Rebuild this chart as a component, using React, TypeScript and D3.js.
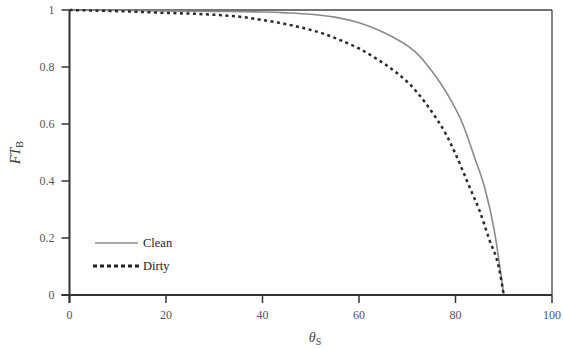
import React from "react";
import * as d3 from "d3";

const cleanTheta = [0, 10, 20, 30, 40, 45, 50, 55, 60, 64, 67, 70, 72, 74, 76, 79, 81.5, 84, 86, 88, 90];
const cleanFT = [1, 0.999, 0.997, 0.995, 0.993, 0.99, 0.985, 0.975, 0.955, 0.93, 0.905, 0.875, 0.848, 0.81, 0.765, 0.685, 0.6, 0.48, 0.38, 0.23, 0];
const dirtyTheta = [0, 10, 20, 28, 35, 40, 45, 50, 53, 56, 60, 64, 68, 70, 72, 75, 78, 80, 83, 85, 87, 89, 90];
const dirtyFT = [1, 0.996, 0.99, 0.985, 0.977, 0.965, 0.95, 0.93, 0.915, 0.895, 0.865, 0.825, 0.777, 0.748, 0.712, 0.645, 0.565, 0.495, 0.375, 0.295, 0.195, 0.095, 0];
const xTicks = [0, 20, 40, 60, 80, 100];
const yTicks = [0, 0.2, 0.4, 0.6, 0.8, 1];
const yTickLabels = ["0", "0.2", "0.4", "0.6", "0.8", "1"];
const seriesNames = ["Clean", "Dirty"];

const W = 563;
const H = 349;
const left = 69.5;
const right = 552;
const top = 10;
const bottom = 295;

export default function App() {
  const x = d3.scaleLinear().domain([0, 100]).range([left, right]);
  const y = d3.scaleLinear().domain([0, 1]).range([bottom, top]);
  const line = d3
    .line<[number, number]>()
    .x((d) => x(d[0]))
    .y((d) => y(d[1]))
    .curve(d3.curveMonotoneX);
  const clean = cleanTheta.map((t, i) => [t, cleanFT[i]] as [number, number]);
  const dirty = dirtyTheta.map((t, i) => [t, dirtyFT[i]] as [number, number]);
  const font = "'Liberation Serif', 'DejaVu Serif', serif";
  const axisColor = "#333";
  const labelColor = "#555";

  return (
    <svg
      width={W}
      height={H}
      style={{ position: "fixed", left: 0, top: 0, background: "#fff" }}
      fontFamily={font}
    >
      <rect x={0} y={0} width={W} height={H} fill="#fff" />
      {/* frame top & right */}
      <line x1={left} x2={right} y1={top} y2={top} stroke="#444" strokeWidth={1.3} />
      <line x1={right} x2={right} y1={top} y2={bottom} stroke="#444" strokeWidth={1.3} />
      {/* data */}
      <path d={line(clean) || ""} fill="none" stroke="#8a8a8a" strokeWidth={1.6} />
      <path d={line(dirty) || ""} fill="none" stroke="#2a2a2a" strokeWidth={2.5} strokeDasharray="3,3.5" />
      {/* axes */}
      <line x1={left} x2={left} y1={top} y2={bottom + 8} stroke={axisColor} strokeWidth={2} />
      <line x1={left - 8} x2={right} y1={bottom} y2={bottom} stroke={axisColor} strokeWidth={2} />
      {yTicks.map((t, i) => (
        <g key={"y" + t}>
          <line x1={left - 8} x2={left} y1={y(t)} y2={y(t)} stroke={axisColor} strokeWidth={1.5} />
          <text x={left - 15} y={y(t)} dy="0.35em" textAnchor="end" fontSize={12} fill={labelColor}>
            {yTickLabels[i]}
          </text>
        </g>
      ))}
      {xTicks.map((t) => (
        <g key={"x" + t}>
          <line x1={x(t)} x2={x(t)} y1={bottom} y2={bottom + 8} stroke={axisColor} strokeWidth={1.5} />
          <text x={x(t)} y={bottom + 24} textAnchor="middle" fontSize={12} fill={labelColor}>
            {t}
          </text>
        </g>
      ))}
      {/* axis titles */}
      <text x={315} y={342} textAnchor="middle" fontSize={14} fill="#444">
        <tspan fontStyle="italic">θ</tspan>
        <tspan fontSize={10} dy={3}>S</tspan>
      </text>
      <text
        transform={`translate(20,${(top + bottom) / 2}) rotate(-90)`}
        textAnchor="middle"
        fontSize={14}
        fill="#333"
      >
        <tspan fontStyle="italic">FT</tspan>
        <tspan fontSize={10} dy={3}>B</tspan>
      </text>
      {/* legend */}
      <line x1={95} x2={138} y1={243} y2={243} stroke="#8a8a8a" strokeWidth={1.6} />
      <text x={143} y={243} dy="0.35em" fontSize={12.5} fill="#222">
        {seriesNames[0]}
      </text>
      <line x1={93} x2={140} y1={266} y2={266} stroke="#222" strokeWidth={3} strokeDasharray="4,3" />
      <text x={143} y={266} dy="0.35em" fontSize={12.5} fill="#222">
        {seriesNames[1]}
      </text>
    </svg>
  );
}
